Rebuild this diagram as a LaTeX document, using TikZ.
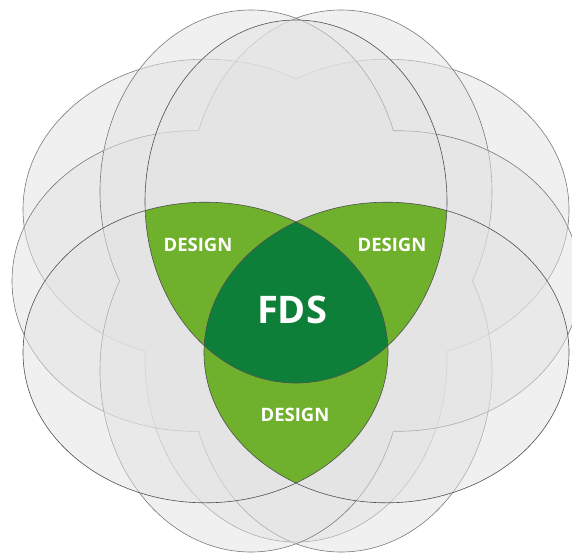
\documentclass[tikz,border=0pt]{standalone}
\usepackage{fontspec}
\setmainfont{Open Sans}
\definecolor{lgreen}{HTML}{6FB02D}
\definecolor{dgreen}{HTML}{0E7F38}
\definecolor{outerline}{HTML}{7A7A7A}
\definecolor{vennline}{HTML}{505050}
\definecolor{layergrey}{HTML}{E2E2E2}
% Venn (dark) ellipses
\def\EA{(296,201.5) ellipse [x radius=151pt, y radius=181.5pt]}
\def\EL{(205.5,352.5) ellipse [x radius=182.5pt, y radius=150.3pt]}
\def\ER{(386.5,352.5) ellipse [x radius=182.5pt, y radius=150.3pt]}
% triple 1 (upside down)
\def\EAd{(296,360.5) ellipse [x radius=151pt, y radius=181.5pt]}
\def\ELu{(205.5,209.5) ellipse [x radius=182.5pt, y radius=150.3pt]}
\def\ERu{(386.5,209.5) ellipse [x radius=182.5pt, y radius=150.3pt]}
% triple 2 (turned left)
\def\EHl{(194.5,281) ellipse [x radius=182.5pt, y radius=150.3pt]}
\def\ECu{(341,191.5) ellipse [x radius=151pt, y radius=181.5pt]}
\def\ECd{(341,370.5) ellipse [x radius=151pt, y radius=181.5pt]}
% triple 3 (turned right)
\def\EHr{(397.5,281) ellipse [x radius=182.5pt, y radius=150.3pt]}
\def\EBu{(251,191.5) ellipse [x radius=151pt, y radius=181.5pt]}
\def\EBd{(251,370.5) ellipse [x radius=151pt, y radius=181.5pt]}
\tikzset{
  layerfill/.style={fill=layergrey, fill opacity=0.5},
  outline/.style={draw=outerline, line width=0.6pt},
  vennstroke/.style={draw=vennline, line width=0.6pt},
  lbl/.style={text=white, inner sep=0pt, font=\bfseries\fontsize{18.5}{20}\selectfont},
  biglbl/.style={text=white, inner sep=0pt, font=\bfseries\fontsize{38}{40}\selectfont}
}
% outline of the union of three ellipses: draw #1 outside #2 and #3
\newcommand{\unionpart}[3]{%
  \begin{scope}[even odd rule]
    \clip (-100,-100) rectangle (700,700) #2;
    \clip (-100,-100) rectangle (700,700) #3;
    \draw[outline] #1;
  \end{scope}}
\newcommand{\triple}[3]{%
  \fill[layerfill] #1 #2 #3;
  \unionpart{#1}{#2}{#3}
  \unionpart{#2}{#1}{#3}
  \unionpart{#3}{#1}{#2}}
\begin{document}
\begin{tikzpicture}[x=1pt,y=-1pt]
\useasboundingbox (0,0) rectangle (572,554);
\triple{\EAd}{\ELu}{\ERu}
\triple{\EHl}{\ECu}{\ECd}
\triple{\EHr}{\EBu}{\EBd}
% Venn
\fill[layerfill] \EA \EL \ER;
\begin{scope}
  \clip \EA;
  \fill[lgreen] \EL;
  \fill[lgreen] \ER;
\end{scope}
\begin{scope}
  \clip \EL;
  \fill[lgreen] \ER;
\end{scope}
\begin{scope}
  \clip \EA;
  \clip \EL;
  \fill[dgreen] \ER;
\end{scope}
\draw[vennstroke] \EA;
\draw[vennstroke] \EL;
\draw[vennstroke] \ER;
% labels
\node[lbl] (d1) at (198,245) {DESIGN};
\node[lbl] (d2) at (392,245) {DESIGN};
\node[lbl] (d3) at (295,415) {DESIGN};
\node[biglbl] (fds) at (292,310) {FDS};
\end{tikzpicture}
\end{document}
